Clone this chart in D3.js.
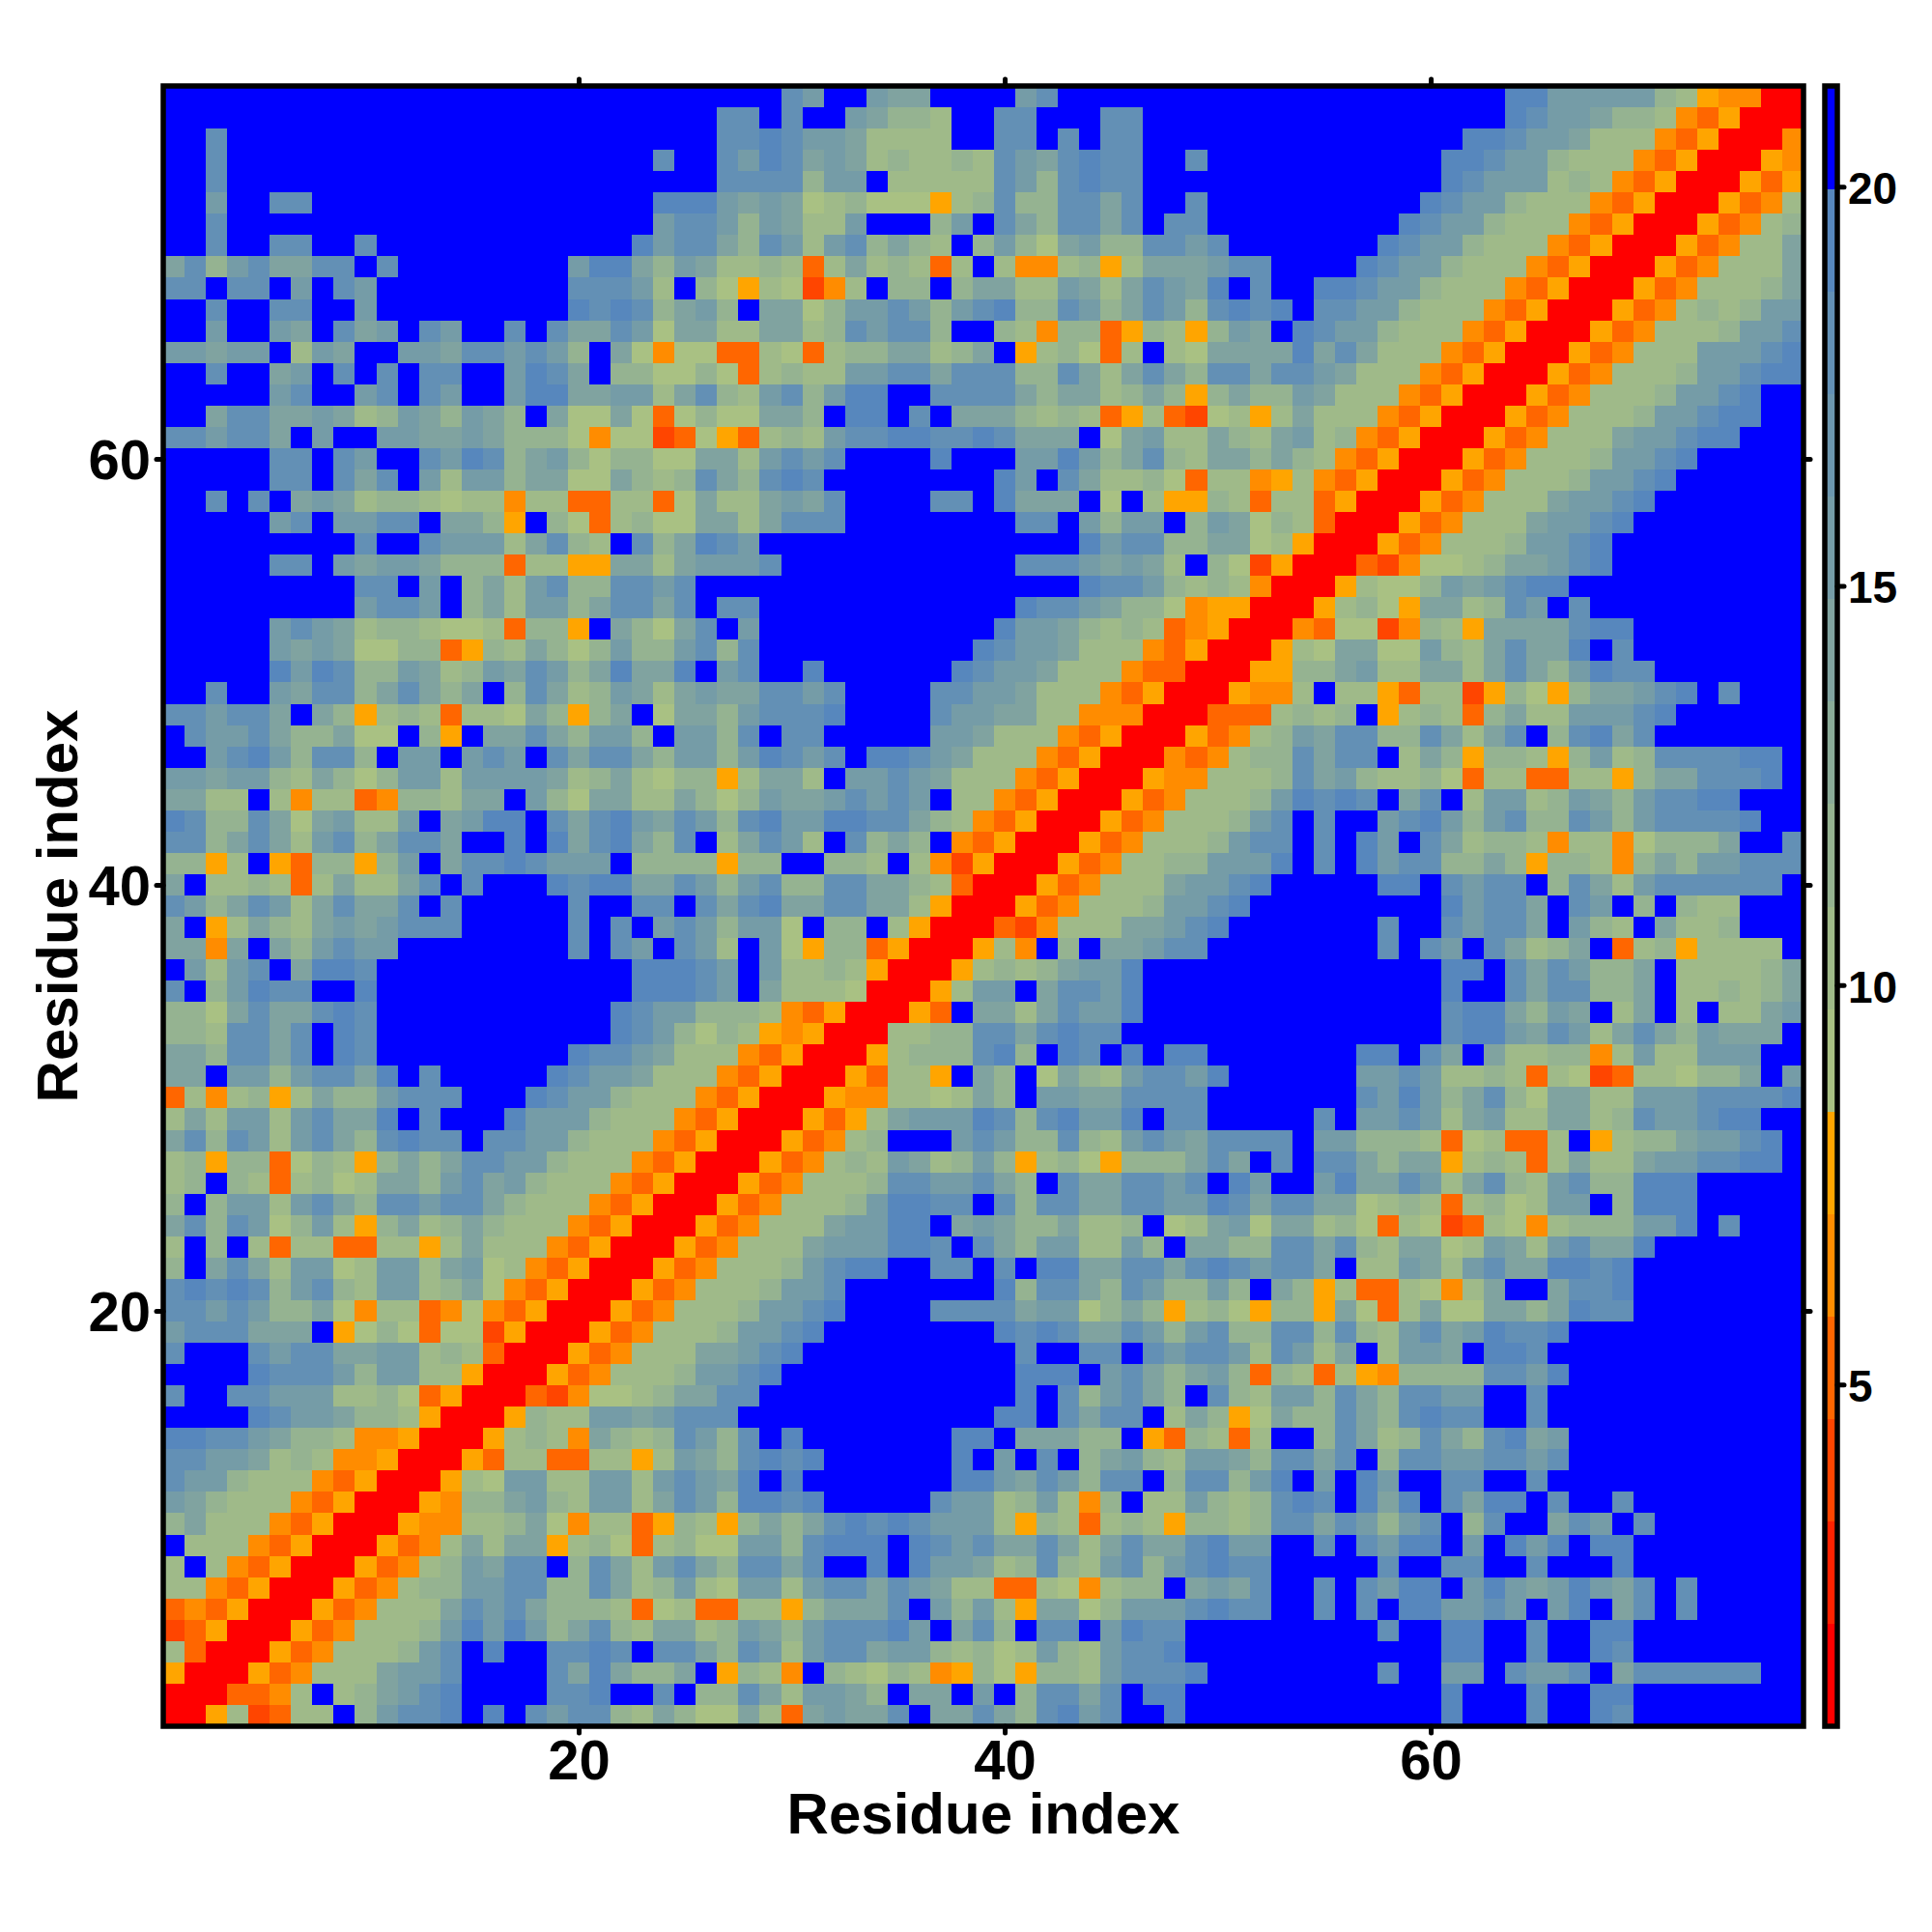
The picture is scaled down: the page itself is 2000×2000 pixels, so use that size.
<!DOCTYPE html>
<html><head><meta charset="utf-8">
<script src="https://cdn.jsdelivr.net/npm/d3@7"></script>
<style>html,body{margin:0;padding:0;background:#fff}svg{display:block}text{font-family:"Liberation Sans",Arial,sans-serif;font-weight:bold;fill:#000}</style>
</head><body><svg id="c" width="2000" height="2000"></svg>
<script>
// Distance classes, one character per cell. Rows run from residue 77 (top) to residue 1 (bottom).
const colsResidue01to26 = [
"ffffffffff ffffffffff ffffff","ffffffffff ffffffffff ffffff","ffdfffffff ffffffffff ffffff","ffdfffffff ffffffffff fffdff","ffdfffffff ffffffffff ffffff",
"ffcffddfff ffffffffff fffeee","ffdfffffff ffffffffff fffcdd","ffdffddffd ffffffffff ffecdd","bdacdbbddf dffffffffc eebacb","ddfddfcfdc fffffffffd ddc9fa",
"ffdffddffc fffffffffe dedabc","ffcffcbfdb cfdcffdfdb bdc8bb","ccbccf9cbf fccbddcdca fb8488","ffdffbcfdf dfddffcedb faa88a","fffffcdffc dfdcffceeb bcc9bd",
"ffbddbbcb9 acbacbafb8 8b838a","ddcddbfcff ccbbcbaaa8 488238","fffffddfdc ffdcedabca 8aa88b","fffffddfdb dfc9ccabb8 8ba9ad","ffdfdfbcb9 aa98994993 39938b",
"fffffcdfcc ddfbba5fa8 39a88b","fffffffffd ffdccc9bda 9fdabe","fffffddfcb ccbaaa3995 5bb9bc","fffffffffd dfcfab9cda addcdf","fffffffffc ddcfab9cca bddbdf",
"fffffcdcb9 aa98893aa5 fba8bd","fffffcbcb8 8aa35a9ba8 acaacd","fffffeceda acb9acbdca bebbef","ffdffcbdda bdbabfadb9 acb9bc","ddcddbfba5 9a93998ba5 abf8bb",
"fdccdbaab8 8fa5fbbdba ccafcc","ffcdecadda fccfcdcfdb ddbacc","ccbcca9ba8 acc9ccccb9 ab98aa","bb99f94993 4aa9bbfca8 bb99ba","edaadb8bc9 9cfbceefdb decbdc",
"ddabdb9cda bddbffefeb debadf","aa59f53aa5 acfbddedcc cfaaaa","bf99a939b9 9bdfdfffed eebbdc","dcabdc9bdb bdfdfffffd ffddfd","bf59ba9bcb cdddfffffd fdfcdc",
"bb4bfbacdc cffffffffd fdcfdc","fc9cdfbeed ffffffffff ffeeed","dfaceddffe ffffffffff ffeeed","aa8bdbbded ffffffffff fedcca","aa9ddbdfed ffffffffff fedca8",
"bbaddbdfed fffffffffe ddcb99","bbfccacddb efdfffffed ccb999","3949a59baa cdddfffedc ca9994","9b9cc9cdbb efdfffeccc a99943","bdadc9cdba deddfddcca 999435",
"9a5aa38a95 ababddcca9 994350","9afa939a89 bbacdbca99 943500","afacc9cdba ddcddba999 435000","bdadc8ac95 ab9aba9994 350005","9faf939933 9959b99943 500053",
"afbdb9cc89 cc9bc89435 000534","dededacda9 cc9ab84350 005349","ddcdcaab84 9934843500 053499","cdddbbbf58 a838825000 534999","dfffdcddbb cc9a930005 34999b",
"ffffedddca cc99500053 4999ac","dffddccc99 a835000324 889abb","ffffedccba a950005a99 ccbcdd","eeddcbaa94 4500059a94 ba9adc","ddccb9a944 5000539933 9959cb",
"dcca999435 000598cc99 cc9cdc","cba9994350 0054aabca9 cc9bdc","ab99943500 054499ab84 9935a9","f999435000 5349b9bb59 a839a8","9f94350005 349acbddfa db9cdb",
"9943500053 49aaccddaa db9ac9","3435000534 999bdcdbaa a93893","2350005349 99acececab da9bb9","9300053499 9acdfeffdd edfddb","5000534999 bccdffffdb ebaabf",
"0003349f9a bcdeffffdd effdfa","00592399fa cddefefdcd da9ba8"
];
const colsResidue27to52 = [
"fffdcffcbb ffffcdffff ffffff","ddfdffcbaa 9ffddfffdd ffffff","ddedccb999 9ffddfdfdd ffffff","dcedbcb9a9 9a9dcbdedd ffdfff","ddddaccf99 999dcadedd ffffff",
"cbcb89a888 59adaaddbd ffdfff","cacb99cfff acfdbaddbd fddfff","badc9cdaba 9faca8bcaa ddcdff","99a939b9a9 39f9449a59 bbbcdd","8598249faa fabb99cb9b dcbefd",
"afbb8accdc acdeaadcab dcaded","99bb9adcdd affa94aa35 a95acb","339839aabb 9abf59a839 f98bbb","839a99ccdd bdddaadb9b dbaddb","a9cdaceeff ddddbabb9a ba5aba",
"88bbafeefd fbbba9a935 932895","539a9cddee ddedbbbf8b c99ba9","b9cdcdffff efffccecab da9bba","badedfffff fffecfdb99 a83994","99bcbdffff ddfebbbf8f 955a93",
"b9bdddffff ffffddfcac cfacb8","dcffffffff fffffffecd daabb8","ccdfffffff ffffdddcbc b9fa82","ffffffffff fffffffedd ca9a94","ddffffffff ffffeddcba a84550",
"fcffffffff fffeccba9a 934500","adffffffff ffedccb999 435000","cdffefffff fedccb9994 330005","bbddcdffff ddccb99943 500054","acdddeffff dccbb99444 000333",
"adfddfffff ccb9994350 005349","acedcdfeed cb99943500 04349a","59bb9fccdc b999435000 544999","8acbbcdcdc f994350005 34999a","adecceeddb a943500053 4999ac",
"9bdc9fdaba f435000534 999acd","5aaffaa9f9 4250005349 9aaccc","acdaaddbba 9300053499 9bccde","bdebbddbb9 5000534999 accdef","acc8faaf95 000324999b bcdeff",
"9fc85aa350 00594fafbb cddfff","cfc99a9500 059a9abcce ffffff","cfb9998000 59ccfbddce ffffff","aa94350005 3fbb9bdcce ffffff","a954500099 aaddbdeddf ffffff",
"943500059a aadeafedfe feefff","4350005399 5fbaf8ba9c ddceff","3500054499 89bafccbbd dddfff","50005359bc ccedadecce fddfff","0005349aff fcdcaada9c dcbddd",
"005349a9cb 9aca59a85a aabdbf","0534999add ccdbafdbbd dcdfec","534999acee ddfdaddbbd dccedb","34999bccee fbcbaab99a f89bc8","4999bcccee dfdbacc99c afbbaa",
"999acdeeff ddfdfeebbd dbdedc","99accdffff fffeaddbad caacaf","9accdeffff ddddbcc8ab a59a85","accdefffff fffededbbd cacdaa","bcdeffffff ffffdffddf dcddc9",
"cdefffffff ffffeeefcd babca3","ddffffffff ffffefdacd bafda9","dfffffffff fffeefdbdd f9ba58","adfeffffff feefbbbaaf 53a939","adedefffff fefcfdfabc a9ccba",
"befeffffff feecbdcadd faddac","aeedefffff dcc9ac94af 99ca9a","5ababdeded ccc95a939a 95aa9a","8ccadeeefe dcdbbdb9bd bbdecc","addbdffefe ccb9ada9cd acdedd",
"8cc9cddbdc b99339849a afbcbd","3995abbbdf cac95bb8ac ccdedd","acbacdddec fbdafddfce ddffff","adc9cddbcc a9a89ca9cd deffff","5a94fa98a9 45a85aa9cd ddefff",
"adb9ccbafb bfcfaddbdf eeffff","8b93bcbbdf bbdbadecdf feffff"
];
const colsResidue53to77 = [
"fffffffffff eeccccca9 54400","fffffffffff edccbaa94 35000","fffffffff eedccb9994 350004","ffffffff eedcca999 43500054","ffffffff edccc9a94 35000535",
"fffffff edcca9994 350005349","ffffff edcca9994 350005349a","fffff edcca9994 3500053499b","ffff edcca9994 35000534999b","ff eedcca9994 35000534999ab",
"efddcca999 4350005349 a9acc","fedcca9994 3500053499 9accd","bebdb99943 5000534999 cccde","ddcb999435 000534999a ccdee","acb9994350 00534999ac cdeff",
"9b99943500 0534999acc deeff","bc9a435000 534999bccd eefff","ba94350005 34999accde fffff","5943500053 4999accdef fffff","9935000534 999bccdeff fffff",
"a930005349 99bccdefff fffff","9500053499 9accdeffff fffff","5000324889 abbcdeffff fffff","0005988acb cdeeffffff fffff","0059a85bb9 adcfdfffff fffff",
"0438824a95 bbbbdeefff fffff","598bb88ca9 bdbbefdfff fffff","5aabc99bb9 bdbaceddff fffff","49f9953992 5a85abbcde fdfff","9a9af59a93 ab99cccdef fffff",
"acbddaadb9 bdfadebdff fffff","adbddf9ba5 aa95ac9add ddeef","adbca99a83 9933995abb dddef","cededfbdf9 cc9acbacdd eefff","dfdffcdeca cdaadcacdd ddeff",
"dfdfecfdb9 aa949948aa abffd","efdfecddaa ba5aa94aba ccddd","fffffeefdc ddfadb9cdd ddddf","ffffffffec ddbfdcfafa 99fff","fffffdffdc ddbfca9fb9 9afff",
"fffffdfdcf db9abf39a5 9999f","ffffffffee fdbdcaabf9 999ab","ffffffffef fdbddaabf9 9a9ab","ffffffffde ebacbf9bf9 f99bc","ffffffffde ecbdc9bdba cbbbf",
"ffffeefdbf b99aa49c99 cccff","ffffccdc99 a939823998 aabfc","ffffdcecab da8bb99ccc dddde","ffdfccdc9b c99bb9adcc deeff","dfccaaa938 9339f59aab ccdef",
"dfddbabb59 a939b99bcc ddeef","ffcebbdc9b da9cdaaeee fffff","ddbb89a939 a89ccfaeee fffff","bb9a839823 9849aaacce fdfff","ddbda9bb89 cb9cdbbeff fffff",
"ddbf99cb9c dbbeedefff fffff","ba59339849 bffbddefff fffff","aa5b839b88 bbabeddfff fffff","ddada9cdbc eddeffffff fffff","dc9bf9ccbf eedfffffff fffff",
"a93954aaaa ddceffffff fffff","ccadbaddcc ffdfffffff fffff","baadbadedd ffdfffffff fffff","ffadb9adba debcffffff fffff","ddbdfaddcc ddcdffffff fffff",
"efcfecffdd ffdfffffff fffff","dedfebefdb eefdffdfff fffff","ddbdcacdfa dffbdcfdff fffff","ffdfdceefc fecefeefff fffff","fffffdffdd ffdfffefff fffff",
"ffdfdceefc ecbcecbdfd fffff","ffdfdfeecc dcfcefbdfd fffff","fffffdffee ffdffeefff fffff","ffffffffee ffdffedfff fffff","fffffdffcc fdccdfbddd dddff",
"ffffffffef ffdffeefff fffff","ffffffffef ffdffedfff fffff"
];
// Distance (Å) standing for each class character, read against the colour bar.
const classDistance = {"0":1.36,"1":2.64,"2":3.92,"3":5.2,"4":6.48,"5":7.76,"8":9.04,"9":10.32,"a":11.6,"b":14.16,"c":15.44,"d":17.99,"e":19.27,"f":20.55};
const barColors = ["#ff0000","#ff2200","#ff4500","#ff6600","#ff8c00","#ffa500","#a9c183","#9fba89","#95b391","#8aab98","#80a3a0","#759ca7","#6c96ae","#6390b5","#5787bd","#0000ff"];
const axisTicks = [20,40,60];
const barTicks = [5,10,15,20];
const residues = 77;
const barDomain = [0.72,21.26];
const axisTitle = "Residue index";

const problems=[];
function fit(s,n,tag,r){s=s.replace(/\s/g,"");if(s.length!==n)problems.push(tag+" row "+r+" len "+s.length);return (s+"f".repeat(n)).slice(0,n);}
const rows = d3.range(residues).map(r=>fit(colsResidue01to26[r],26,"A",r)+fit(colsResidue27to52[r],26,"B",r)+fit(colsResidue53to77[r],25,"C",r));

const svg = d3.select("#c");
const L=169,R=1867,T=89,B=1787;
const x = d3.scaleLinear().domain([0.5,residues+0.5]).range([L,R]);
const y = d3.scaleLinear().domain([0.5,residues+0.5]).range([B,T]);
const color = d3.scaleQuantize().domain(barDomain).range(barColors);
const cells=[];
rows.forEach((s,r)=>{for(let c=0;c<residues;c++)cells.push({i:c+1,j:residues-r,v:classDistance[s[c]]});});
svg.append("g").attr("shape-rendering","crispEdges").selectAll("rect").data(cells).join("rect")
 .attr("x",d=>x(d.i-0.5)).attr("y",d=>y(d.j+0.5))
 .attr("width",x(1.5)-x(0.5)+0.6).attr("height",y(0.5)-y(1.5)+0.6)
 .attr("fill",d=>color(d.v));

function styleAxis(g,font){
 g.select(".domain").remove();
 g.selectAll("line").attr("stroke","#000").attr("stroke-width",5).attr("stroke-linecap","round");
 g.selectAll("text").style("font-size",font+"px").style("font-family",'"Liberation Sans",Arial,sans-serif').style("font-weight","bold").attr("fill","#000");
}
svg.append("g").attr("transform",`translate(0,${B})`).call(d3.axisBottom(x).tickValues(axisTicks).tickSize(7).tickPadding(7).tickFormat(d3.format("d"))).call(g=>styleAxis(g,58));
svg.append("g").attr("transform",`translate(${L},0)`).call(d3.axisLeft(y).tickValues(axisTicks).tickSize(7).tickPadding(6).tickFormat(d3.format("d"))).call(g=>{styleAxis(g,58);g.selectAll("text").attr("dy","0.36em");});
svg.append("g").attr("transform",`translate(0,${T})`).call(d3.axisTop(x).tickValues(axisTicks).tickSize(7).tickFormat("")).call(g=>styleAxis(g,58));
svg.append("g").attr("transform",`translate(${R},0)`).call(d3.axisRight(y).tickValues(axisTicks).tickSize(7).tickFormat("")).call(g=>styleAxis(g,58));
svg.append("rect").attr("x",L).attr("y",T).attr("width",R-L).attr("height",B-T).attr("fill","none").attr("stroke","#000").attr("stroke-width",5.5);

svg.append("text").attr("x",(L+R)/2).attr("y",1898).attr("text-anchor","middle").style("font-size","60px").text(axisTitle);
svg.append("text").attr("transform",`translate(80,${(T+B)/2}) rotate(-90)`).attr("text-anchor","middle").style("font-size","60px").text(axisTitle);

// colour bar
const barL=1889,barR=1902;
const barY=d3.scaleLinear().domain(barDomain).range([B,T]);
const step=(barDomain[1]-barDomain[0])/barColors.length;
svg.append("g").attr("shape-rendering","crispEdges").selectAll("rect").data(barColors).join("rect")
 .attr("x",barL).attr("width",barR-barL)
 .attr("y",(d,i)=>barY(barDomain[0]+(i+1)*step)).attr("height",(d,i)=>barY(barDomain[0]+i*step)-barY(barDomain[0]+(i+1)*step)+0.5)
 .attr("fill",d=>d);
svg.append("rect").attr("x",barL).attr("y",T).attr("width",barR-barL).attr("height",B-T).attr("fill","none").attr("stroke","#000").attr("stroke-width",5.5);
svg.append("g").attr("transform",`translate(${barR},0)`).call(d3.axisRight(barY).tickValues(barTicks).tickSize(7).tickPadding(4).tickFormat(d3.format("d"))).call(g=>{styleAxis(g,46);g.selectAll("text").attr("dy","0.38em");});
if(problems.length) throw new Error(problems.join("; "));
</script></body></html>
